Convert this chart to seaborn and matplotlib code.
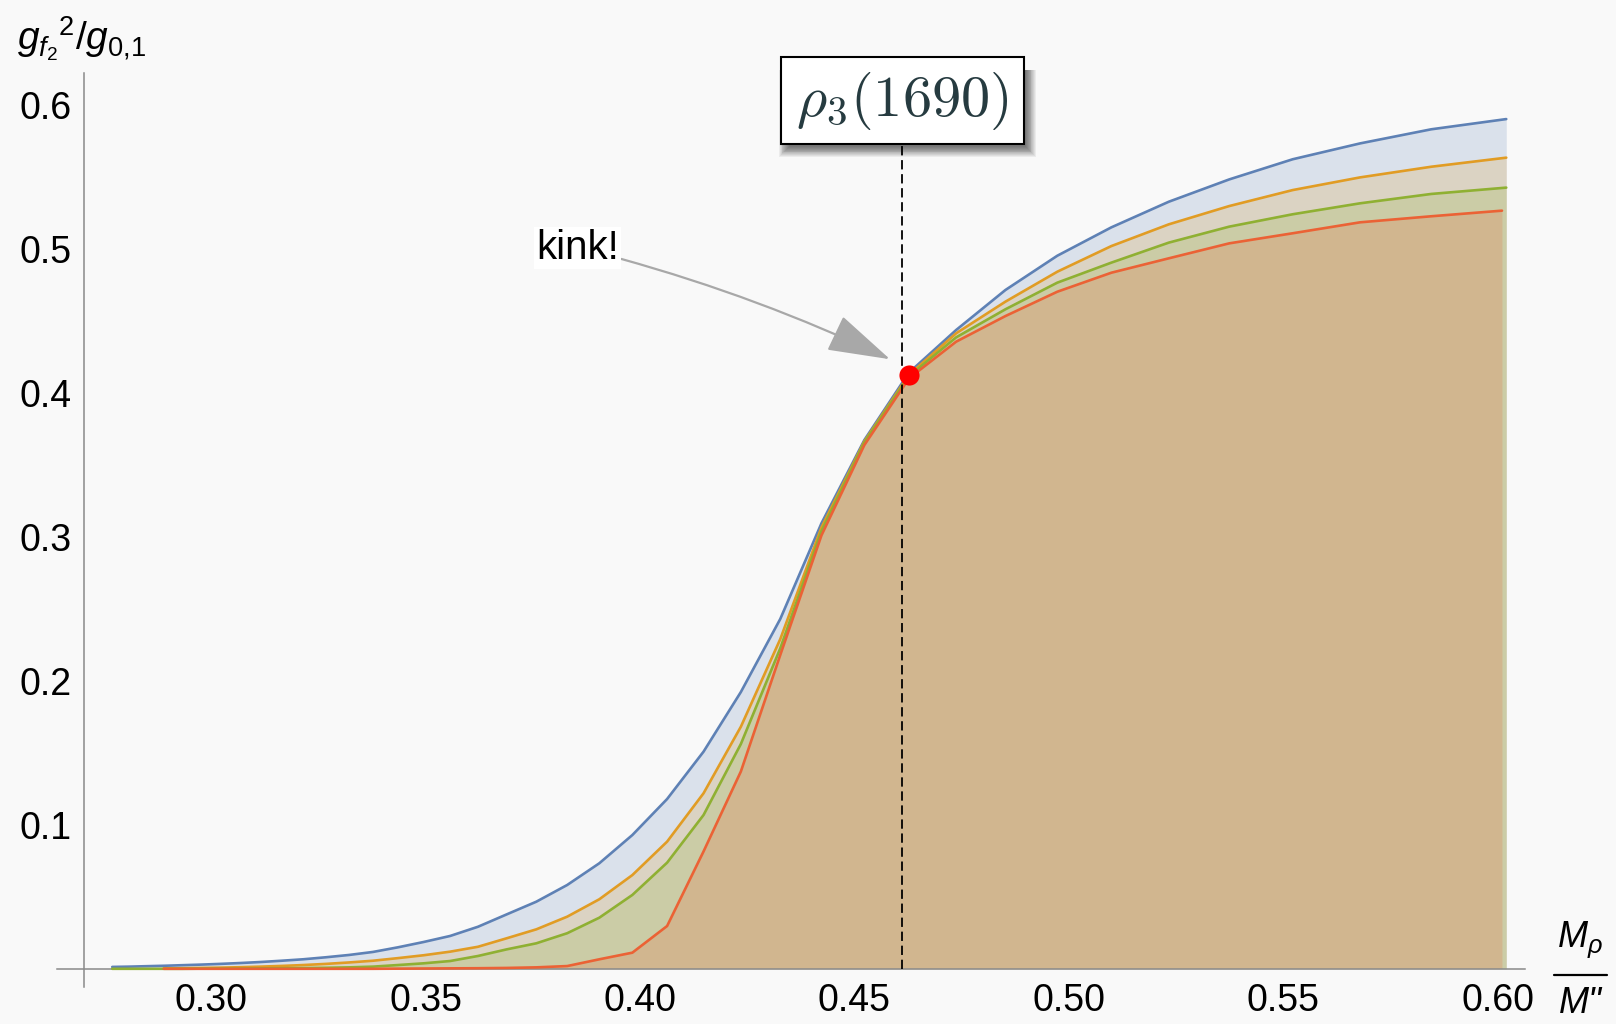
import numpy as np
import pandas as pd
import matplotlib
matplotlib.use("Agg")
import matplotlib.pyplot as plt
import seaborn as sns
from matplotlib.patches import Rectangle
from matplotlib.lines import Line2D

# ---------------- data ----------------
x_blue = [0.2769, 0.2808, 0.2848, 0.2889, 0.2932, 0.2975, 0.3020, 0.3067, 0.3114, 0.3164,
          0.3214, 0.3267, 0.3321, 0.3377, 0.3435, 0.3495, 0.3557, 0.3622, 0.3689, 0.3758,
          0.3830, 0.3905, 0.3982, 0.4063, 0.4148, 0.4235, 0.4327, 0.4423, 0.4523, 0.4627,
          0.4737, 0.4852, 0.4973, 0.5099, 0.5233, 0.5374, 0.5522, 0.5679, 0.5845, 0.6020]
y_blue = [0.0013, 0.0015, 0.0018, 0.0021, 0.0025, 0.0029, 0.0034, 0.0040, 0.0047, 0.0056,
          0.0066, 0.0080, 0.0096, 0.0117, 0.0149, 0.0186, 0.0228, 0.0292, 0.0378, 0.0466,
          0.0582, 0.0733, 0.0929, 0.1179, 0.1508, 0.1922, 0.2430, 0.3094, 0.3672, 0.4140,
          0.4436, 0.4714, 0.4952, 0.5149, 0.5327, 0.5482, 0.5622, 0.5732, 0.5830, 0.5901]

x_orange = [0.2889, 0.2932, 0.2975, 0.3020, 0.3067, 0.3114, 0.3164,
            0.3214, 0.3267, 0.3321, 0.3377, 0.3435, 0.3495, 0.3557, 0.3622, 0.3689, 0.3758,
            0.3830, 0.3905, 0.3982, 0.4063, 0.4148, 0.4235, 0.4327, 0.4423, 0.4523, 0.4627,
            0.4737, 0.4852, 0.4973, 0.5099, 0.5233, 0.5374, 0.5522, 0.5679, 0.5845, 0.6020]
y_orange = [0.0003, 0.0004, 0.0006, 0.0008, 0.0011, 0.0015, 0.0020,
            0.0026, 0.0034, 0.0044, 0.0056, 0.0074, 0.0094, 0.0119, 0.0153, 0.0212, 0.0274,
            0.0362, 0.0483, 0.0651, 0.0883, 0.1219, 0.1681, 0.2290, 0.3065, 0.3662, 0.4125,
            0.4413, 0.4633, 0.4841, 0.5019, 0.5170, 0.5297, 0.5408, 0.5496, 0.5570, 0.5633]

x_green = x_blue
y_green = [0.0000, 0.0000, 0.0000, 0.0000, 0.0000, 0.0001, 0.0001, 0.0002, 0.0003, 0.0004,
           0.0005, 0.0007, 0.0010, 0.0015, 0.0026, 0.0038, 0.0054, 0.0089, 0.0135, 0.0177,
           0.0247, 0.0355, 0.0513, 0.0737, 0.1068, 0.1561, 0.2226, 0.3040, 0.3655, 0.4115,
           0.4385, 0.4580, 0.4765, 0.4904, 0.5043, 0.5154, 0.5240, 0.5316, 0.5381, 0.5425]

x_red = [0.2889, 0.2932, 0.2975, 0.3020, 0.3067, 0.3114, 0.3164,
         0.3214, 0.3267, 0.3321, 0.3377, 0.3435, 0.3495, 0.3557, 0.3622, 0.3689, 0.3758,
         0.3830, 0.3905, 0.3982, 0.4063, 0.4148, 0.4235, 0.4327, 0.4423, 0.4523, 0.4627,
         0.4737, 0.4852, 0.4973, 0.5099, 0.5233, 0.5374, 0.5522, 0.5679, 0.5845, 0.6010]
y_red = [0.0000, 0.0000, 0.0000, 0.0000, 0.0000, 0.0000, 0.0000,
         0.0000, 0.0000, 0.0000, 0.0000, 0.0001, 0.0002, 0.0003, 0.0004, 0.0006, 0.0010,
         0.0019, 0.0066, 0.0112, 0.0297, 0.0815, 0.1370, 0.2180, 0.3010, 0.3637, 0.4100,
         0.4355, 0.4533, 0.4702, 0.4834, 0.4934, 0.5038, 0.5108, 0.5184, 0.5226, 0.5265]

series_names = ["blue", "orange", "green", "red"]
series_colors = ["#5E81B5", "#E19C24", "#8FB032", "#EB6235"]

x_major_ticks = [0.30, 0.35, 0.40, 0.45, 0.50, 0.55, 0.60]
x_major_labels = ["0.30", "0.35", "0.40", "0.45", "0.50", "0.55", "0.60"]
y_major_ticks = [0.1, 0.2, 0.3, 0.4, 0.5, 0.6]
y_major_labels = ["0.1", "0.2", "0.3", "0.4", "0.5", "0.6"]

kink_x, kink_y = 0.4628, 0.4122
rho3_x = 0.461
arrow_tip = (0.4583, 0.4233)
kink_text_pos = (0.3855, 0.5009)

# ---------------- build dataframe ----------------
xs = [x_blue, x_orange, x_green, x_red]
ys = [y_blue, y_orange, y_green, y_red]
frames = []
for name, xx, yy in zip(series_names, xs, ys):
    frames.append(pd.DataFrame({"x": xx, "y": yy, "series": name}))
df = pd.concat(frames, ignore_index=True)

# ---------------- style ----------------
sns.set_style("white")
BG = "#f9f9f9"
plt.rcParams["font.family"] = ["Liberation Sans", "DejaVu Sans"]
plt.rcParams["mathtext.fontset"] = "custom"
plt.rcParams["mathtext.rm"] = "Liberation Sans"
plt.rcParams["mathtext.it"] = "Liberation Sans:italic"
plt.rcParams["mathtext.bf"] = "Liberation Sans:bold"

W, H = 1616, 1024
fig = plt.figure(figsize=(W / 100, H / 100), dpi=100, facecolor=BG)
ax = fig.add_axes([57 / W, 1 - 987 / H, (1525 - 57) / W, (987 - 73) / H])
ax.set_facecolor(BG)

# fills (Filling -> Axis, opacity 0.2)
for name, col in zip(series_names, series_colors):
    sub = df[df.series == name]
    ax.fill_between(sub.x, 0, sub.y, color=col, alpha=0.2, lw=0, zorder=1)

sns.lineplot(data=df, x="x", y="y", hue="series", hue_order=series_names,
             palette=series_colors, legend=False, sort=False, lw=1.9,
             estimator=None, ax=ax, zorder=3)

ax.set_xlim(0.26402, 0.60637)
ax.set_ylim(-0.01264, 0.6221)

# axes like Mathematica
for s in ["top", "right"]:
    ax.spines[s].set_visible(False)
ax.spines["left"].set_position(("data", 0.2704))
ax.spines["bottom"].set_position(("data", 0.0))
for s in ["left", "bottom"]:
    ax.spines[s].set_color("#8a8a8a")
    ax.spines[s].set_linewidth(1.1)
    ax.spines[s].set_zorder(2)

ax.set_xticks(x_major_ticks)
ax.set_xticklabels(x_major_labels)
ax.set_xticks([round(0.28 + 0.01 * i, 2) for i in range(33) if round(0.28 + 0.01 * i, 2) not in x_major_ticks], minor=True)
ax.set_yticks(y_major_ticks)
ax.set_yticklabels(y_major_labels)
ax.set_yticks([round(0.02 * i, 2) for i in range(1, 32) if round(0.02 * i, 2) not in [round(v, 2) for v in y_major_ticks]], minor=True)
ax.tick_params(axis="both", which="major", direction="in", length=4.6, width=1.0,
               color="#8a8a8a", labelsize=27, labelcolor="black")
ax.tick_params(axis="both", which="minor", direction="in", length=2.7, width=0.9,
               color="#8a8a8a")
ax.tick_params(axis="x", which="major", pad=10)
ax.tick_params(axis="y", which="major", pad=9)
ax.set_xlabel("")
ax.set_ylabel("")

# dashed marker line for rho3(1690)
box_bottom_data = (968.8 - 144) / 1440
lw_d = 1.3
ax.plot([rho3_x, rho3_x], [0, box_bottom_data], color="black", lw=lw_d,
        ls=(0, (6.7 / lw_d, 3.4 / lw_d)), zorder=4, clip_on=False)

# red dot
ax.plot([kink_x], [kink_y], "o", color="#ff0000", ms=14.5, mec="none", zorder=6)

# kink annotation
ax.annotate("kink!", xy=arrow_tip, xytext=kink_text_pos, fontsize=29,
            ha="center", va="center", color="black",
            bbox=dict(boxstyle="square,pad=0.05", fc="white", ec="none"),
            arrowprops=dict(arrowstyle="-|>,head_length=2.0,head_width=0.6",
                            mutation_scale=20, color="#a8a8a8", lw=1.6,
                            shrinkA=0, shrinkB=0,
                            connectionstyle="arc3,rad=-0.05"),
            zorder=7)

# label box rho3(1690) with soft drop shadow (below / right)
bx0, by0, bx1, by1 = 780.7, 57.3, 1024.0, 144.0
for i in range(12):
    g = i * 0.9
    fig.patches.append(Rectangle(((bx0 + 8 - g) / W, 1 - (by1 + 3 + g) / H),
                                 (bx1 - bx0 - 6 + 2 * g) / W, (by1 - by0 - 10 + g) / H,
                                 transform=fig.transFigure, fc="black", ec="none",
                                 alpha=0.055, zorder=8))
fig.patches.append(Rectangle((bx0 / W, 1 - by1 / H), (bx1 - bx0) / W, (by1 - by0) / H,
                             transform=fig.transFigure, fc="white", ec="black",
                             lw=1.5, zorder=9))
fig.text((bx0 + bx1) / 2 / W, 1 - 101 / H, r"$\rho_3(1690)$", fontsize=42,
         ha="center", va="center", color="#263b40", zorder=10,
         math_fontfamily="cm")

# axis labels
fig.text(17 / W, 1 - 50 / H, r"$g_{f_2}{}^{2}/g_{0{,}1}$", fontsize=28,
         ha="left", va="baseline", color="black")
fig.text(1580 / W, 1 - 948 / H, r"$M_{\rho}$", fontsize=26,
         ha="center", va="baseline", color="black")
fig.add_artist(Line2D([1554 / W, 1607 / W], [1 - 975 / H, 1 - 975 / H],
                      transform=fig.transFigure, color="black", lw=1.6))
fig.text(1580 / W, 1 - 1013 / H, 'M"', fontsize=26, fontstyle="italic",
         ha="center", va="baseline", color="black")

fig.savefig("out.png", dpi=100, facecolor=BG)
